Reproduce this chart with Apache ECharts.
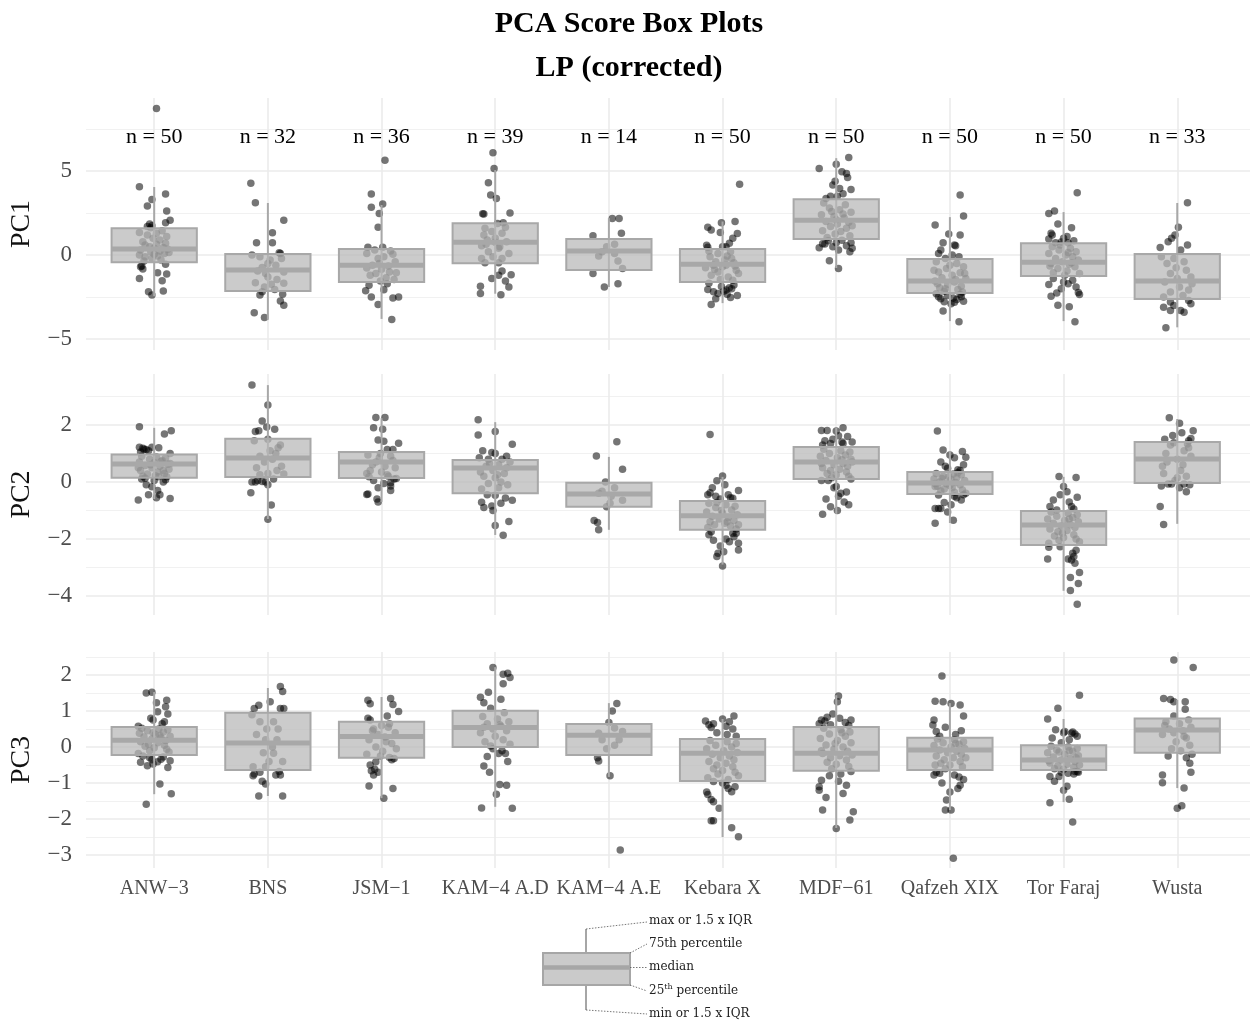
<!DOCTYPE html>
<html><head><meta charset="utf-8">
<script src="https://cdn.jsdelivr.net/npm/echarts/dist/echarts.min.js"></script>
<style>html,body{margin:0;padding:0;background:#fff}#c{width:1258px;height:1025px}</style>
</head><body><div id="c"></div>
<script>
const categories = ['ANW−3','BNS','JSM−1','KAM−4 A.D','KAM−4 A.E','Kebara X','MDF−61','Qafzeh XIX','Tor Faraj','Wusta'];
const nCounts = [50,32,36,39,14,50,50,50,50,33];
const nLabelY = 7;
const panelNames = ['PC1','PC2','PC3'];
const yRanges = [[-5.65,9.35],[-4.67,3.79],[-3.36,2.64]];
const majorTicks = [[-5,0,5],[-4,-2,0,2],[-3,-2,-1,0,1,2]];
const minorTicks = [[-2.5,2.5,7.5],[-3,-1,1,3],[-2.5,-1.5,-0.5,0.5,1.5,2.5]];

// box stats: [lower whisker, Q1, median, Q3, upper whisker]
const pc1Box = [[-2.45,-0.42,0.36,1.6,4.05],[-3.85,-2.14,-0.89,0.06,3.1],[-3.8,-1.6,-0.6,0.36,2.98],[-2.3,-0.48,0.77,1.9,5.06],[-1.9,-0.89,0.24,0.95,2.2],[-2.86,-1.6,-0.54,0.36,2.0],[-0.77,0.95,2.08,3.33,5.77],[-3.93,-2.26,-1.55,-0.24,2.26],[-3.93,-1.25,-0.42,0.71,2.56],[-4.3,-2.62,-1.55,0.06,3.1]];
const pc2Box = [[-0.6,0.15,0.63,0.96,1.9],[-1.3,0.17,0.84,1.52,3.4],[-0.7,0.14,0.7,1.05,2.24],[-1.86,-0.4,0.49,0.77,2.1],[-1.68,-0.87,-0.42,-0.03,0.88],[-2.9,-1.68,-1.19,-0.67,0.18],[-1.12,0.1,0.7,1.23,1.9],[-1.44,-0.42,-0.04,0.35,1.09],[-3.82,-2.21,-1.51,-1.02,0.18],[-1.47,-0.04,0.81,1.4,2.21]];
const pc3Box = [[-1.31,-0.22,0.19,0.56,1.53],[-1.36,-0.64,0.11,0.95,1.64],[-1.42,-0.3,0.29,0.7,1.39],[-1.66,0.0,0.54,1.01,2.22],[-0.83,-0.22,0.33,0.64,1.22],[-2.5,-0.94,-0.17,0.22,0.78],[-2.25,-0.66,-0.17,0.56,1.44],[-1.75,-0.64,-0.08,0.26,1.22],[-1.53,-0.64,-0.36,0.05,0.78],[-1.14,-0.16,0.47,0.79,1.31]];

// jittered points per category: [horizontal jitter offset, score]
const pc1Points = [
[[0.02,8.73],[-0.13,4.07],[0.10,3.63],[-0.02,3.31],[-0.06,2.92],[0.11,2.62],[0.14,2.08],[0.10,1.92],[-0.04,1.85],[-0.02,1.75],[-0.06,1.70],[-0.03,1.62],[-0.13,1.35],[-0.06,1.20],[0.02,1.30],[0.11,1.10],[-0.10,0.80],[-0.08,0.60],[0.02,0.65],[0.08,0.45],[-0.12,0.30],[-0.03,0.20],[0.00,0.05],[0.09,0.10],[-0.08,-0.10],[0.03,-0.05],[-0.02,-0.20],[-0.04,0.50],[0.05,0.90],[0.12,0.35],[-0.13,0.00],[0.10,0.70],[0.05,0.25],[0.06,-0.30],[-0.01,1.00],[0.13,0.15],[-0.11,-0.65],[-0.10,-0.83],[0.10,-0.54],[0.03,-1.05],[0.11,-1.13],[-0.13,-1.39],[0.07,-1.53],[-0.05,-2.18],[0.08,-2.14],[-0.02,-2.38],[-0.12,-0.70],[0.07,1.45],[-0.09,-0.35],[0.0,0.4]],
[[-0.15,4.27],[-0.11,3.11],[0.14,2.08],[0.04,1.33],[-0.10,0.73],[0.04,0.73],[0.10,0.14],[0.11,0.10],[-0.14,0.00],[-0.07,-0.10],[0.00,-0.50],[0.07,-0.60],[-0.02,-1.09],[0.14,-1.00],[-0.11,-1.64],[0.03,-1.74],[0.14,-1.68],[-0.05,-0.74],[0.00,-1.30],[0.02,-0.30],[-0.09,-0.95],[0.08,-1.45],[-0.03,-1.90],[0.12,-0.20],[-0.05,-2.18],[-0.07,-2.38],[0.13,-2.33],[0.11,-2.74],[0.14,-2.98],[-0.12,-3.43],[-0.03,-3.72],[0.06,-2.05]],
[[0.03,5.65],[-0.09,3.63],[0.01,3.04],[-0.09,2.84],[-0.02,2.48],[-0.03,1.65],[-0.12,0.46],[0.01,0.46],[-0.13,0.10],[0.02,-0.10],[-0.08,-0.60],[0.06,-0.65],[0.13,-1.05],[-0.05,-1.10],[0.04,-1.35],[-0.01,-1.55],[0.11,-1.45],[-0.13,-0.77],[0.08,0.25],[-0.03,-0.20],[0.12,-0.40],[0.00,-0.85],[-0.10,-1.20],[0.10,0.05],[0.07,-1.00],[-0.02,-0.50],[-0.06,0.30],[0.05,-1.70],[-0.11,-1.80],[-0.14,-2.12],[0.02,-2.06],[-0.09,-2.50],[0.10,-2.55],[0.15,-2.50],[-0.03,-2.94],[0.09,-3.84]],
[[-0.02,6.09],[-0.01,5.16],[-0.06,4.30],[-0.04,3.57],[0.01,3.37],[-0.11,2.46],[-0.10,2.44],[0.13,2.50],[0.07,1.92],[0.02,1.88],[-0.09,1.60],[0.09,1.65],[0.06,1.30],[-0.07,0.90],[0.00,1.00],[-0.12,0.55],[0.04,0.50],[-0.06,0.20],[0.03,0.40],[-0.12,-0.20],[0.06,-0.20],[-0.09,-0.45],[0.03,-0.45],[0.10,0.80],[-0.10,1.20],[0.12,0.10],[-0.02,-0.10],[-0.03,1.40],[-0.08,0.65],[0.06,-0.95],[0.03,-1.20],[0.14,-1.17],[-0.03,-1.40],[0.09,-1.55],[-0.13,-1.85],[0.12,-1.90],[-0.13,-2.28],[0.05,-2.36],[0.0,0.77]],
[[0.03,2.18],[0.09,2.18],[-0.14,1.15],[0.11,1.30],[-0.02,0.50],[0.08,-0.35],[0.12,-0.80],[-0.14,-1.10],[-0.04,-1.90],[0.08,-1.70],[-0.06,0.20],[0.05,0.10],[0.05,0.65],[-0.09,-0.05]],
[[0.15,4.21],[-0.01,1.92],[-0.13,1.65],[-0.10,1.50],[0.11,2.00],[0.13,1.29],[0.09,1.00],[-0.02,1.35],[-0.14,0.58],[-0.13,0.46],[0.00,0.50],[0.03,0.50],[0.06,0.70],[-0.11,-0.10],[-0.04,0.10],[-0.08,-0.60],[0.03,-0.60],[-0.15,-0.75],[0.10,-0.45],[-0.04,-1.00],[0.08,-0.20],[0.02,-0.30],[-0.06,-0.40],[0.12,-0.90],[-0.10,-1.20],[0.05,-1.30],[0.00,-0.70],[-0.02,-1.45],[0.14,-1.10],[0.07,0.20],[-0.12,0.25],[0.09,-1.50],[-0.07,-0.85],[0.04,-0.05],[0.11,-0.65],[-0.12,-1.68],[-0.01,-1.87],[0.03,-2.08],[0.10,-1.78],[0.08,-2.00],[-0.08,-2.18],[-0.04,-2.28],[0.04,-2.33],[0.07,-2.52],[-0.10,-2.94],[0.13,-2.40],[-0.06,-2.60],[0.01,-2.15],[-0.13,-2.05],[0.06,-1.95]],
[[0.11,5.81],[-0.15,5.16],[0.00,5.40],[0.05,4.96],[0.09,4.86],[0.10,4.62],[-0.03,4.17],[0.03,3.97],[0.13,3.90],[-0.09,3.37],[-0.05,3.50],[0.01,3.50],[0.06,3.65],[-0.01,4.40],[-0.11,3.10],[0.08,3.00],[-0.06,2.80],[0.03,2.70],[0.13,2.55],[-0.13,2.40],[-0.02,2.30],[0.07,2.20],[-0.09,2.00],[0.11,1.95],[0.01,1.85],[-0.05,1.70],[0.09,1.60],[-0.12,1.45],[0.04,1.40],[-0.01,1.25],[0.12,1.15],[-0.08,1.05],[0.06,2.45],[-0.04,2.60],[0.14,1.75],[0.00,2.10],[-0.12,0.68],[-0.10,0.66],[0.00,0.73],[0.13,0.73],[-0.15,0.44],[0.02,0.30],[0.12,0.20],[-0.06,-0.34],[0.02,-0.80],[0.09,0.55],[-0.07,0.85],[0.05,0.88],[0.14,0.40],[-0.03,0.50]],
[[0.09,3.57],[0.12,2.32],[-0.13,1.79],[-0.01,1.25],[0.09,1.20],[-0.06,0.73],[0.04,0.60],[0.05,0.55],[-0.10,0.10],[-0.04,-0.20],[0.08,-0.10],[-0.08,0.30],[0.02,0.00],[-0.12,-0.40],[0.06,-0.50],[0.12,-0.70],[-0.03,-0.80],[-0.10,-1.00],[0.09,-1.05],[0.02,-1.20],[-0.07,-1.35],[0.14,-1.40],[-0.13,-1.55],[0.04,-1.60],[-0.02,-1.75],[0.10,-1.85],[-0.09,-1.95],[0.07,-2.05],[-0.05,-2.15],[0.00,-0.60],[0.13,-1.10],[-0.11,-1.70],[0.05,-1.45],[-0.04,-2.00],[0.11,-2.20],[-0.14,-0.90],[-0.10,-2.48],[-0.05,-2.78],[0.04,-2.81],[0.10,-2.48],[0.09,-2.35],[0.01,-2.90],[-0.06,-3.33],[0.08,-3.97],[-0.08,-2.60],[0.03,-2.55],[0.06,-2.65],[-0.02,-2.40],[-0.12,-2.30],[0.12,-2.75]],
[[0.12,3.71],[-0.13,2.48],[-0.08,2.62],[-0.05,1.85],[0.07,1.62],[-0.11,1.30],[-0.10,1.20],[0.00,1.00],[-0.07,0.73],[0.04,0.73],[0.03,1.10],[-0.13,0.95],[0.09,0.85],[-0.02,0.78],[-0.10,0.50],[0.06,0.40],[-0.04,0.30],[0.11,0.20],[-0.13,0.10],[0.02,0.00],[0.08,-0.10],[-0.07,-0.20],[0.13,-0.30],[-0.01,-0.40],[-0.11,-0.50],[0.05,-0.55],[0.10,-0.70],[-0.05,-0.80],[0.03,-0.95],[-0.09,-1.05],[0.14,-1.10],[0.01,-1.20],[-0.03,0.60],[0.07,-0.45],[-0.12,-0.65],[0.04,0.15],[-0.13,-1.75],[0.04,-1.70],[-0.06,-2.26],[0.13,-2.22],[0.14,-2.35],[-0.05,-2.98],[0.05,-3.08],[0.10,-3.97],[-0.09,-1.40],[0.08,-1.50],[0.00,-1.60],[-0.02,-2.00],[0.11,-1.90],[-0.11,-2.45]],
[[0.09,3.11],[0.01,1.65],[-0.05,1.00],[-0.08,0.80],[-0.15,0.45],[0.09,0.60],[0.03,0.30],[-0.02,1.20],[-0.14,-0.10],[-0.06,-1.10],[-0.01,-0.75],[-0.11,-1.60],[0.10,-2.08],[-0.06,-2.20],[0.06,-0.40],[0.12,-1.30],[0.02,-1.90],[-0.09,-0.50],[0.08,-0.90],[0.00,-1.40],[0.05,-2.40],[-0.12,-2.50],[0.13,-1.70],[-0.03,-0.20],[-0.06,-2.80],[-0.03,-3.00],[0.06,-3.40],[-0.06,-3.30],[0.03,-3.30],[-0.10,-4.33],[0.10,-2.70],[0.12,-2.90],[-0.12,-3.10]]
];
const pc2Points = [
[[-0.13,1.94],[0.15,1.80],[0.09,1.68],[-0.13,1.22],[-0.10,1.18],[-0.07,1.14],[-0.02,1.22],[-0.12,1.05],[0.14,1.00],[-0.05,1.10],[0.04,1.20],[-0.09,1.15],[-0.11,0.90],[0.02,0.88],[0.10,0.85],[-0.04,0.80],[0.07,0.75],[-0.13,0.70],[0.00,0.68],[0.12,0.62],[-0.08,0.58],[0.05,0.55],[-0.02,0.50],[0.13,0.45],[-0.12,0.40],[0.03,0.35],[0.09,0.30],[-0.06,0.28],[0.01,0.22],[-0.10,0.20],[0.11,0.18],[-0.03,0.60],[0.06,0.72],[-0.14,0.50],[0.08,0.40],[0.14,0.65],[-0.08,0.13],[0.04,0.18],[-0.02,-0.17],[0.03,-0.30],[-0.14,-0.63],[-0.05,-0.45],[0.05,-0.45],[0.14,-0.58],[0.08,0.00],[-0.11,0.10],[0.00,0.05],[-0.07,-0.10],[0.10,0.08],[0.02,-0.55]],
[[-0.14,3.40],[0.00,2.70],[-0.05,2.14],[-0.11,1.77],[-0.08,1.80],[-0.01,1.93],[0.06,1.85],[0.00,1.50],[0.11,1.30],[0.02,1.10],[-0.07,0.90],[0.07,1.00],[-0.10,0.50],[0.12,0.55],[0.00,0.30],[0.14,0.28],[-0.07,0.25],[0.04,0.80],[-0.03,0.70],[0.09,1.20],[-0.14,0.00],[-0.11,0.00],[-0.05,0.02],[-0.02,0.00],[0.00,-0.10],[-0.15,-0.38],[0.03,-0.81],[0.00,-1.31],[-0.09,0.05],[0.05,0.10],[-0.12,1.45],[0.08,0.40]],
[[-0.05,2.26],[0.03,2.26],[-0.07,1.90],[0.01,1.85],[-0.03,1.47],[0.02,1.43],[0.15,1.36],[0.05,1.14],[0.10,1.14],[-0.01,1.00],[-0.12,0.95],[0.08,0.90],[0.10,0.75],[-0.05,0.70],[0.03,0.55],[-0.10,0.40],[-0.13,0.30],[0.06,0.20],[-0.02,0.85],[0.12,0.50],[-0.08,0.60],[0.00,0.35],[0.05,0.25],[-0.11,0.18],[-0.12,-0.42],[-0.13,-0.44],[-0.03,-0.20],[0.08,-0.03],[0.08,-0.14],[0.08,-0.30],[-0.04,-0.60],[-0.03,-0.70],[0.11,0.10],[-0.07,0.05],[0.02,-0.05],[0.13,0.12]],
[[-0.15,2.18],[-0.15,1.65],[0.00,1.77],[0.15,1.32],[-0.11,1.10],[-0.03,1.03],[0.00,1.00],[-0.06,0.80],[0.06,0.80],[0.03,0.60],[-0.08,0.55],[0.10,0.50],[-0.02,0.40],[-0.10,0.20],[0.00,0.15],[0.05,0.00],[0.11,-0.10],[-0.12,-0.25],[0.03,-0.20],[0.08,0.30],[-0.05,0.65],[0.13,0.70],[-0.13,0.35],[0.00,-0.47],[0.09,-0.56],[0.15,-0.64],[-0.12,-0.71],[-0.10,-0.90],[-0.03,-0.84],[-0.02,-1.00],[0.00,-1.53],[0.12,-1.39],[0.07,-1.87],[-0.07,-0.45],[0.05,-0.75],[-0.14,0.85],[0.10,0.90],[0.02,0.25],[-0.06,-0.05]],
[[0.07,1.41],[-0.11,0.91],[0.12,0.45],[-0.03,0.00],[-0.06,-0.33],[0.02,-0.50],[-0.09,-0.40],[0.01,-0.75],[-0.02,-0.87],[-0.13,-1.35],[-0.10,-1.42],[-0.09,-1.68],[0.12,-0.64],[0.05,-0.20]],
[[-0.11,1.67],[0.00,0.21],[-0.05,0.04],[-0.13,-0.45],[-0.11,-0.38],[-0.06,-0.50],[0.07,-0.55],[0.09,-0.57],[0.14,-0.30],[0.02,-0.10],[-0.09,-0.20],[0.05,-0.45],[-0.02,-0.60],[-0.12,-0.75],[0.03,-0.80],[0.11,-0.85],[-0.06,-0.90],[0.08,-0.98],[-0.14,-1.05],[0.00,-1.10],[0.13,-1.15],[-0.09,-1.20],[0.05,-1.25],[-0.03,-1.30],[0.10,-1.35],[-0.11,-1.40],[0.02,-1.45],[-0.07,-1.50],[0.07,-1.55],[-0.13,-1.60],[0.12,-1.65],[-0.01,-1.00],[0.04,-1.40],[-0.05,-0.72],[0.14,-1.50],[-0.08,-2.05],[0.12,-1.80],[0.10,-1.92],[0.14,-2.15],[0.14,-2.39],[-0.04,-2.50],[-0.05,-2.62],[0.01,-2.45],[0.00,-2.95],[0.09,-1.80],[-0.12,-1.85],[0.03,-2.00],[-0.02,-2.25],[0.06,-2.10],[-0.10,-1.75]],
[[-0.13,1.81],[-0.08,1.81],[0.06,1.90],[0.00,1.79],[-0.10,1.45],[-0.03,1.50],[0.05,1.40],[0.14,1.40],[-0.05,1.35],[0.06,1.35],[0.10,1.60],[-0.12,1.30],[0.02,1.62],[-0.11,1.15],[0.04,1.10],[0.12,1.05],[-0.06,1.00],[0.08,0.95],[-0.14,0.90],[0.01,0.85],[0.13,0.80],[-0.09,0.75],[0.06,0.65],[-0.02,0.60],[0.10,0.55],[-0.12,0.50],[0.03,0.45],[-0.05,0.40],[0.09,0.35],[-0.08,0.30],[0.00,0.25],[0.11,0.20],[-0.04,0.15],[0.14,0.70],[-0.13,0.65],[0.05,0.78],[-0.13,0.05],[-0.07,0.05],[0.13,0.10],[0.00,-0.16],[0.04,-0.40],[0.02,-0.50],[0.07,-0.70],[0.11,-0.80],[-0.05,-0.87],[0.01,-1.00],[-0.12,-1.13],[-0.02,-0.20],[0.09,-0.35],[-0.09,-0.60]],
[[-0.11,1.79],[-0.06,1.12],[0.11,1.07],[0.14,0.87],[0.04,0.85],[-0.02,0.48],[0.07,0.43],[0.09,0.40],[-0.08,0.70],[0.12,0.60],[0.00,0.95],[-0.04,0.55],[-0.12,0.30],[0.03,0.28],[0.10,0.25],[-0.06,0.20],[0.06,0.15],[-0.14,0.10],[0.01,0.08],[0.13,0.05],[-0.09,0.00],[0.05,-0.02],[-0.03,-0.06],[0.09,-0.10],[-0.11,-0.15],[0.02,-0.20],[-0.05,-0.25],[0.11,-0.28],[-0.08,-0.32],[0.04,-0.36],[0.14,-0.40],[-0.01,0.18],[-0.13,-0.05],[0.07,0.32],[0.00,-0.12],[-0.07,0.12],[-0.13,-0.16],[-0.10,-0.46],[0.04,-0.50],[0.10,-0.63],[-0.05,-0.72],[-0.08,-0.93],[-0.13,-0.93],[-0.10,-0.93],[0.03,-1.34],[-0.13,-1.45],[0.06,-0.55],[0.01,-0.80],[0.12,-0.45],[-0.02,-1.05]],
[[-0.04,0.19],[0.11,0.16],[0.00,-0.16],[0.03,-0.34],[0.12,-0.54],[-0.09,-0.63],[0.05,-0.70],[-0.12,-0.86],[0.07,-0.86],[-0.03,-0.45],[0.09,-0.95],[-0.06,-0.98],[-0.11,-1.05],[0.04,-1.10],[0.12,-1.15],[-0.06,-1.20],[0.08,-1.25],[-0.14,-1.30],[0.01,-1.35],[0.13,-1.40],[-0.09,-1.45],[0.06,-1.50],[-0.02,-1.55],[0.10,-1.60],[-0.12,-1.65],[0.03,-1.70],[-0.05,-1.75],[0.09,-1.85],[-0.08,-1.90],[0.00,-1.95],[0.11,-2.00],[-0.04,-2.05],[0.14,-2.10],[-0.13,-2.15],[0.05,-1.30],[-0.01,-1.80],[-0.13,-2.29],[-0.03,-2.27],[0.09,-2.62],[0.07,-2.74],[0.04,-2.70],[0.14,-3.18],[0.06,-3.35],[0.13,-3.56],[0.06,-3.81],[0.12,-4.29],[-0.14,-2.70],[0.08,-2.50],[0.11,-2.40],[0.10,-2.85]],
[[-0.07,2.25],[0.02,2.06],[-0.04,1.63],[0.04,1.73],[0.14,1.80],[0.12,1.53],[-0.11,1.50],[0.10,1.45],[0.10,1.20],[-0.10,1.00],[0.00,0.80],[0.05,0.60],[-0.12,0.30],[0.08,0.20],[-0.02,0.05],[0.12,0.90],[-0.06,1.30],[0.03,0.40],[-0.09,0.70],[0.06,1.10],[-0.13,0.55],[0.00,0.15],[-0.14,-0.14],[-0.08,-0.07],[-0.05,-0.07],[0.06,-0.07],[0.08,-0.34],[-0.15,-0.86],[-0.12,-1.49],[0.11,-0.10],[0.02,-0.20],[-0.03,1.38],[0.09,1.33]]
];
const pc3Points = [
[[-0.07,1.50],[-0.02,1.52],[0.02,1.23],[0.11,1.30],[0.10,1.12],[0.03,0.98],[0.12,0.92],[-0.03,0.80],[-0.01,0.75],[0.09,0.70],[0.07,0.65],[-0.14,0.58],[-0.11,0.52],[0.04,0.50],[0.12,0.48],[-0.06,0.45],[0.08,0.42],[-0.13,0.38],[0.01,0.35],[0.14,0.30],[-0.09,0.28],[0.06,0.25],[-0.02,0.22],[0.10,0.18],[-0.12,0.15],[0.03,0.12],[-0.05,0.08],[0.09,0.05],[-0.08,0.02],[0.00,-0.02],[0.11,-0.06],[-0.04,-0.10],[0.13,-0.14],[-0.14,-0.18],[0.05,0.32],[-0.01,0.40],[-0.04,-0.30],[-0.02,-0.35],[0.03,-0.41],[0.06,-0.34],[0.14,-0.38],[-0.06,-0.52],[-0.01,-0.47],[0.12,-0.57],[0.05,-1.03],[0.15,-1.30],[-0.07,-1.59],[-0.10,-0.25],[0.08,-0.28],[-0.12,-0.42]],
[[0.11,1.68],[0.13,1.54],[-0.08,1.16],[-0.12,1.07],[0.02,1.26],[0.11,1.07],[0.14,1.07],[-0.14,0.90],[-0.07,0.70],[0.05,0.70],[-0.01,0.50],[0.09,0.50],[-0.02,0.20],[0.08,0.20],[-0.04,-0.16],[0.05,-0.17],[0.01,-0.40],[0.13,-0.40],[-0.13,-0.55],[-0.02,-0.55],[0.04,0.00],[-0.10,0.35],[-0.13,-0.80],[-0.12,-0.75],[-0.07,-0.70],[0.07,-0.78],[0.11,-0.78],[-0.02,-1.03],[-0.08,-1.36],[0.13,-1.36],[0.10,-0.68],[-0.05,-0.95]],
[[0.08,1.35],[-0.12,1.30],[-0.10,1.20],[0.10,1.18],[0.15,0.99],[0.05,0.86],[-0.12,0.80],[-0.10,0.75],[0.00,0.60],[0.06,0.55],[-0.07,0.50],[0.12,0.40],[-0.03,0.35],[0.03,0.28],[-0.11,0.20],[0.09,0.10],[-0.05,0.00],[0.13,-0.05],[0.01,-0.12],[-0.13,-0.20],[0.07,0.65],[-0.08,0.45],[0.04,0.15],[-0.01,-0.25],[0.07,-0.29],[-0.05,-0.41],[-0.06,-0.62],[-0.09,-0.66],[-0.07,-0.78],[-0.03,-0.70],[-0.11,-1.08],[0.10,-1.15],[0.02,-1.42],[0.09,-0.35],[-0.10,-0.50],[0.11,-0.32]],
[[-0.02,2.21],[0.07,2.02],[0.11,2.05],[0.13,1.93],[0.07,1.76],[-0.06,1.52],[-0.13,1.38],[-0.10,1.23],[0.05,1.33],[-0.04,1.08],[0.08,0.95],[-0.11,0.85],[0.02,0.78],[0.12,0.70],[-0.07,0.65],[0.05,0.58],[-0.02,0.50],[0.10,0.45],[-0.13,0.40],[0.00,0.30],[0.07,0.20],[-0.09,0.15],[0.13,0.08],[-0.04,0.03],[0.04,0.62],[-0.10,0.55],[0.03,-0.18],[-0.07,-0.26],[0.09,-0.18],[-0.10,-0.53],[0.04,-1.04],[0.10,-1.06],[0.01,-1.31],[-0.12,-1.69],[0.15,-1.70],[-0.02,-0.05],[0.06,-0.10],[-0.05,-0.70],[0.11,-0.40]],
[[0.07,1.21],[0.03,1.00],[0.00,0.68],[-0.09,0.38],[0.05,0.53],[0.12,0.43],[-0.06,0.20],[0.09,0.20],[-0.10,-0.30],[-0.09,-0.39],[0.01,-0.80],[0.10,-2.86],[-0.02,-0.05],[0.05,0.05]],
[[-0.15,0.72],[-0.10,0.54],[0.00,0.78],[0.10,0.86],[0.06,0.70],[0.03,0.58],[-0.12,0.62],[0.09,0.50],[-0.05,0.40],[0.12,0.30],[-0.08,0.65],[0.04,0.35],[-0.11,0.18],[0.04,0.15],[0.12,0.10],[-0.06,0.05],[0.08,0.00],[-0.14,-0.05],[0.01,-0.10],[0.13,-0.15],[-0.09,-0.20],[0.06,-0.25],[-0.02,-0.30],[0.10,-0.35],[-0.12,-0.40],[0.03,-0.45],[-0.05,-0.50],[0.09,-0.55],[-0.08,-0.60],[0.00,-0.65],[0.11,-0.70],[-0.04,-0.75],[0.14,-0.80],[-0.13,-0.85],[0.05,-0.90],[-0.08,-0.96],[0.03,-1.06],[0.08,-1.24],[-0.13,-1.32],[-0.10,-1.46],[-0.08,-1.52],[-0.10,-2.05],[-0.08,-2.05],[0.08,-2.24],[0.14,-2.49],[0.00,-1.00],[0.05,-1.15],[-0.03,-1.70],[0.11,-1.10],[-0.14,-1.25]],
[[0.02,1.42],[0.01,1.26],[-0.03,0.92],[-0.13,0.75],[-0.08,0.83],[0.13,0.75],[-0.15,0.65],[0.08,0.68],[-0.05,0.62],[0.11,0.60],[0.03,0.80],[-0.10,0.72],[-0.11,0.52],[0.04,0.48],[0.12,0.42],[-0.06,0.36],[0.08,0.30],[-0.14,0.24],[0.01,0.18],[0.13,0.12],[-0.09,0.06],[0.06,0.00],[-0.02,-0.06],[0.10,-0.12],[-0.12,-0.18],[0.03,-0.24],[-0.05,-0.30],[0.09,-0.36],[-0.08,-0.42],[0.00,-0.48],[0.11,-0.54],[-0.04,-0.60],[0.14,-0.22],[-0.13,-0.10],[0.05,0.40],[-0.01,0.10],[0.04,-0.75],[0.13,-0.68],[-0.13,-0.92],[-0.15,-1.10],[-0.15,-1.20],[0.09,-1.06],[0.06,-1.29],[-0.12,-1.75],[0.15,-1.80],[0.12,-2.03],[0.00,-2.26],[-0.06,-0.80],[0.02,-0.95],[-0.09,-1.40]],
[[-0.07,1.97],[-0.13,1.27],[-0.06,1.26],[0.01,1.21],[0.09,1.17],[0.12,0.86],[-0.14,0.75],[-0.15,0.61],[-0.12,0.43],[0.10,0.45],[-0.04,0.55],[0.05,0.35],[-0.09,0.30],[-0.11,0.22],[0.04,0.20],[0.12,0.15],[-0.06,0.12],[0.08,0.08],[-0.14,0.04],[0.01,0.00],[0.13,-0.04],[-0.09,-0.08],[0.06,-0.12],[-0.02,-0.16],[0.10,-0.20],[-0.12,-0.25],[0.03,-0.30],[-0.05,-0.35],[0.09,-0.40],[-0.08,-0.45],[0.00,-0.50],[0.11,-0.55],[-0.04,-0.60],[0.14,-0.30],[-0.13,-0.50],[0.05,0.10],[-0.14,-0.78],[-0.09,-0.73],[0.04,-0.78],[0.08,-0.83],[0.09,-1.06],[0.07,-1.15],[-0.03,-1.47],[0.01,-1.75],[-0.04,-1.75],[0.03,-3.09],[-0.12,-0.70],[0.12,-0.90],[-0.07,-1.00],[0.00,-1.25]],
[[0.14,1.44],[-0.05,1.08],[-0.14,0.78],[-0.07,0.48],[0.01,0.43],[0.07,0.38],[0.10,0.36],[0.00,0.40],[-0.10,0.25],[0.05,0.20],[-0.02,0.12],[0.12,0.30],[0.08,0.42],[-0.11,0.02],[0.04,0.00],[0.12,-0.04],[-0.06,-0.08],[0.08,-0.12],[-0.14,-0.16],[0.01,-0.20],[0.13,-0.24],[-0.09,-0.28],[0.06,-0.32],[-0.02,-0.36],[0.10,-0.40],[-0.12,-0.44],[0.03,-0.48],[-0.05,-0.52],[0.09,-0.56],[-0.08,-0.60],[0.00,-0.62],[0.11,-0.30],[-0.04,-0.14],[0.14,-0.50],[-0.13,-0.38],[0.05,-0.10],[-0.12,-0.82],[-0.04,-0.82],[0.04,-0.73],[0.12,-0.68],[0.03,-1.09],[0.05,-1.45],[-0.12,-1.55],[0.08,-2.08],[-0.02,-0.70],[0.09,-0.75],[-0.08,-0.95],[0.13,-0.70],[0.00,-1.20],[0.10,-0.68]],
[[-0.03,2.42],[0.14,2.21],[-0.12,1.35],[-0.06,1.32],[-0.03,1.26],[0.07,1.26],[-0.03,0.86],[0.10,0.75],[-0.10,0.70],[0.02,0.65],[0.12,0.55],[-0.07,0.50],[0.05,0.45],[-0.13,0.35],[0.08,0.25],[-0.01,0.15],[0.11,0.05],[-0.05,-0.05],[0.03,-0.10],[-0.11,0.60],[0.06,0.30],[-0.03,0.40],[0.11,-0.45],[0.12,-0.70],[-0.13,-0.78],[-0.13,-0.99],[0.06,-1.14],[0.00,-1.70],[0.04,-1.63],[0.08,-0.30],[-0.08,-0.25],[0.13,-0.20],[0.07,1.05]]
];

const boxes = [pc1Box, pc2Box, pc3Box];
const points = [pc1Points, pc2Points, pc3Points];

const SERIF = 'Liberation Serif';
const GRID_LINE = '#ebebeb';
const BOX_LINE = '#a8a8a8';
const BOX_FILL = 'rgba(185,185,185,0.74)';
const BOX_HALF = 0.375;
const catPos = categories.map((c, i) => i + 1);
const fmtNum = v => String(v).replace('-', '\u2212');

const grids = [
  {left: 86, width: 1164, top: 98, height: 252},
  {left: 86, width: 1164, top: 374, height: 241},
  {left: 86, width: 1164, top: 652, height: 216}
];

const xAxes = grids.map((g, i) => ({
  type: 'value', gridIndex: i, min: 0.4, max: 10.64,
  axisLine: {show: false},
  axisTick: {show: true, length: 0, customValues: catPos},
  splitLine: {show: true, lineStyle: {color: GRID_LINE, width: 1.6}},
  axisLabel: {
    show: i === 2, customValues: catPos, margin: 11,
    formatter: v => categories[Math.round(v) - 1] || '',
    fontFamily: SERIF, fontSize: 20, color: '#4d4d4d'
  }
}));

const yAxes = [];
grids.forEach((g, i) => {
  yAxes.push({
    type: 'value', gridIndex: i, min: yRanges[i][0], max: yRanges[i][1],
    axisLine: {show: false},
    axisTick: {show: true, length: 0, customValues: majorTicks[i]},
    splitLine: {show: true, lineStyle: {color: GRID_LINE, width: 1.6}},
    axisLabel: {customValues: majorTicks[i], formatter: fmtNum, fontFamily: SERIF, fontSize: 23, color: '#4d4d4d', margin: 14},
    name: panelNames[i], nameLocation: 'middle', nameGap: 50,
    nameTextStyle: {fontFamily: SERIF, fontSize: 28, color: '#111'}
  });
  yAxes.push({
    type: 'value', gridIndex: i, min: yRanges[i][0], max: yRanges[i][1], position: 'left',
    axisLine: {show: false}, axisLabel: {show: false},
    axisTick: {show: true, length: 0, customValues: minorTicks[i]},
    splitLine: {show: true, lineStyle: {color: '#f1f1f1', width: 1}}
  });
});

const series = [];
grids.forEach((g, i) => {
  const pts = [];
  points[i].forEach((arr, c) => arr.forEach(p => pts.push([c + 1 + p[0], p[1]])));
  series.push({
    type: 'scatter', xAxisIndex: i, yAxisIndex: i * 2, data: pts,
    symbolSize: 7.5, itemStyle: {color: 'rgba(0,0,0,0.68)'}, silent: true, z: 2
  });
  series.push({
    type: 'custom', xAxisIndex: i, yAxisIndex: i * 2, z: 3, silent: true,
    data: boxes[i].map((b, c) => [c + 1].concat(b)),
    encode: {x: 0, y: [1, 2, 3, 4, 5]},
    renderItem: (params, api) => {
      const x = api.value(0);
      const lo = api.coord([x, api.value(1)]);
      const q1 = api.coord([x, api.value(2)]);
      const md = api.coord([x, api.value(3)]);
      const q3 = api.coord([x, api.value(4)]);
      const hi = api.coord([x, api.value(5)]);
      const hw = api.size([BOX_HALF, 0])[0];
      return {type: 'group', children: [
        {type: 'line', shape: {x1: lo[0], y1: lo[1], x2: hi[0], y2: hi[1]}, style: {stroke: BOX_LINE, lineWidth: 2}},
        {type: 'rect', shape: {x: q3[0] - hw, y: q3[1], width: hw * 2, height: q1[1] - q3[1]}, style: {fill: BOX_FILL, stroke: BOX_LINE, lineWidth: 2}},
        {type: 'line', shape: {x1: md[0] - hw, y1: md[1], x2: md[0] + hw, y2: md[1]}, style: {stroke: BOX_LINE, lineWidth: 5}}
      ]};
    }
  });
});
series.push({
  type: 'custom', xAxisIndex: 0, yAxisIndex: 0, z: 4, silent: true,
  data: nCounts.map((n, c) => [c + 1, nLabelY, n]),
  renderItem: (params, api) => {
    const p = api.coord([api.value(0), api.value(1)]);
    return {type: 'text', x: p[0], y: p[1], style: {text: 'n = ' + api.value(2), fontFamily: SERIF, fontSize: 22, fill: '#000', align: 'center', verticalAlign: 'middle'}};
  }
});

const LEG_FONT = {fontFamily: 'DejaVu Serif', fontSize: 12, fill: '#222'};
const conn = {stroke: '#555', lineWidth: 0.8, lineDash: [1.5, 1.5]};
const graphic = [
  {type: 'line', shape: {x1: 586, y1: 929, x2: 586, y2: 953}, style: {stroke: '#a6a6a6', lineWidth: 2}},
  {type: 'line', shape: {x1: 586, y1: 985, x2: 586, y2: 1010}, style: {stroke: '#a6a6a6', lineWidth: 2}},
  {type: 'rect', shape: {x: 543, y: 953, width: 87, height: 32}, style: {fill: '#cacaca', stroke: '#a6a6a6', lineWidth: 2}},
  {type: 'line', shape: {x1: 544, y1: 967.5, x2: 629, y2: 967.5}, style: {stroke: '#a6a6a6', lineWidth: 4.5}},
  {type: 'polyline', shape: {points: [[586, 929], [647, 922]]}, style: conn},
  {type: 'polyline', shape: {points: [[630, 953], [647, 944]]}, style: conn},
  {type: 'polyline', shape: {points: [[630, 967.5], [647, 967.5]]}, style: conn},
  {type: 'polyline', shape: {points: [[630, 985], [647, 991]]}, style: conn},
  {type: 'polyline', shape: {points: [[586, 1010], [647, 1014]]}, style: conn},
  {type: 'text', x: 649, y: 921, style: Object.assign({text: 'max or 1.5 x IQR', verticalAlign: 'middle'}, LEG_FONT)},
  {type: 'text', x: 649, y: 944, style: Object.assign({text: '75th percentile', verticalAlign: 'middle'}, LEG_FONT)},
  {type: 'text', x: 649, y: 967, style: Object.assign({text: 'median', verticalAlign: 'middle'}, LEG_FONT)},
  {type: 'text', x: 649, y: 991, style: Object.assign({text: '25{s|th} percentile', verticalAlign: 'middle', rich: {s: {fontFamily: 'DejaVu Serif', fontSize: 8, fill: '#222', verticalAlign: 'top', lineHeight: 16}}}, LEG_FONT, {lineHeight: 16})},
  {type: 'text', x: 649, y: 1014, style: Object.assign({text: 'min or 1.5 x IQR', verticalAlign: 'middle'}, LEG_FONT)}
];

const chart = echarts.init(document.getElementById('c'), null, {renderer: 'canvas'});
chart.setOption({
  backgroundColor: '#ffffff',
  animation: false,
  title: [
    {text: 'PCA Score Box Plots', left: 'center', top: 4, textStyle: {fontFamily: SERIF, fontSize: 30, fontWeight: 'bold', color: '#000'}},
    {text: 'LP (corrected)', left: 'center', top: 48, textStyle: {fontFamily: SERIF, fontSize: 30, fontWeight: 'bold', color: '#000'}}
  ],
  grid: grids,
  xAxis: xAxes,
  yAxis: yAxes,
  series: series,
  graphic: graphic
});
</script></body></html>
